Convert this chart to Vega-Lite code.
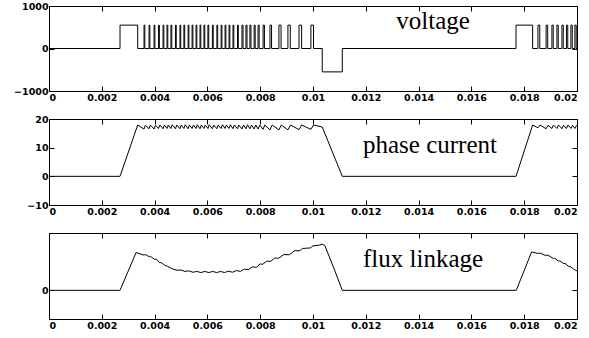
{
  "$schema": "https://vega.github.io/schema/vega-lite/v6.json",
  "background": "white",
  "padding": {"left": 13, "top": 0, "right": 10, "bottom": 5},
  "spacing": 28,
  "bounds": "flush",
  "config": {
    "view": {"stroke": "black", "strokeWidth": 1},
    "axis": {"grid": false, "domain": false, "tickSize": -5, "tickColor": "black", "tickWidth": 1, "labelFont": "DejaVu Sans", "labelFontSize": 9.5, "labelFontWeight": "bold", "labelColor": "black", "labelPadding": 6}
  },
  "datasets": {
    "voltage": [
      {"t": 0, "v": 0}, {"t": 0.00269, "v": 550}, {"t": 0.00336, "v": 0},
      {"t": 0.0036, "v": 550}, {"t": 0.00363, "v": 0},
      {"t": 0.00379, "v": 550}, {"t": 0.00382, "v": 0},
      {"t": 0.00398, "v": 550}, {"t": 0.00401, "v": 0},
      {"t": 0.00415, "v": 550}, {"t": 0.00418, "v": 0},
      {"t": 0.00432, "v": 550}, {"t": 0.00435, "v": 0},
      {"t": 0.00447, "v": 550}, {"t": 0.0045, "v": 0},
      {"t": 0.00462, "v": 550}, {"t": 0.00465, "v": 0},
      {"t": 0.00479, "v": 550}, {"t": 0.00482, "v": 0},
      {"t": 0.00496, "v": 550}, {"t": 0.00499, "v": 0},
      {"t": 0.00511, "v": 550}, {"t": 0.00514, "v": 0},
      {"t": 0.00527, "v": 550}, {"t": 0.0053, "v": 0},
      {"t": 0.00542, "v": 550}, {"t": 0.00545, "v": 0},
      {"t": 0.00557, "v": 550}, {"t": 0.0056, "v": 0},
      {"t": 0.00572, "v": 550}, {"t": 0.00575, "v": 0},
      {"t": 0.00587, "v": 550}, {"t": 0.0059, "v": 0},
      {"t": 0.00602, "v": 550}, {"t": 0.00605, "v": 0},
      {"t": 0.00619, "v": 550}, {"t": 0.00622, "v": 0},
      {"t": 0.00636, "v": 550}, {"t": 0.00639, "v": 0},
      {"t": 0.00652, "v": 550}, {"t": 0.00655, "v": 0},
      {"t": 0.00667, "v": 550}, {"t": 0.0067, "v": 0},
      {"t": 0.00682, "v": 550}, {"t": 0.00685, "v": 0},
      {"t": 0.00697, "v": 550}, {"t": 0.007, "v": 0},
      {"t": 0.00714, "v": 550}, {"t": 0.00717, "v": 0},
      {"t": 0.00731, "v": 550}, {"t": 0.00735, "v": 0},
      {"t": 0.00746, "v": 550}, {"t": 0.0075, "v": 0},
      {"t": 0.00761, "v": 550}, {"t": 0.00765, "v": 0},
      {"t": 0.00777, "v": 550}, {"t": 0.00781, "v": 0},
      {"t": 0.00792, "v": 550}, {"t": 0.00796, "v": 0},
      {"t": 0.00811, "v": 550}, {"t": 0.00816, "v": 0},
      {"t": 0.00837, "v": 550}, {"t": 0.00843, "v": 0},
      {"t": 0.00871, "v": 550}, {"t": 0.00879, "v": 0},
      {"t": 0.00905, "v": 550}, {"t": 0.00914, "v": 0},
      {"t": 0.00947, "v": 550}, {"t": 0.00957, "v": 0},
      {"t": 0.00992, "v": 550}, {"t": 0.01002, "v": 0},
      {"t": 0.01035, "v": -550}, {"t": 0.01111, "v": 0},
      {"t": 0.01769, "v": 550}, {"t": 0.01832, "v": 0},
      {"t": 0.01852, "v": 550}, {"t": 0.01859, "v": 0},
      {"t": 0.01883, "v": 550}, {"t": 0.01889, "v": 0},
      {"t": 0.01905, "v": 550}, {"t": 0.0191, "v": 0},
      {"t": 0.01924, "v": 550}, {"t": 0.01929, "v": 0},
      {"t": 0.01943, "v": 550}, {"t": 0.01948, "v": 0},
      {"t": 0.0196, "v": 550}, {"t": 0.01965, "v": 0},
      {"t": 0.01977, "v": 550}, {"t": 0.01982, "v": 0},
      {"t": 0.01992, "v": 550}, {"t": 0.01997, "v": 0},
      {"t": 0.02, "v": 0}
    ],
    "current": [
      {"t": 0, "i": 0}, {"t": 0.00269, "i": 0}, {"t": 0.00336, "i": 17.9},
      {"t": 0.0036, "i": 16.5}, {"t": 0.00365, "i": 17.8},
      {"t": 0.00379, "i": 16.6}, {"t": 0.00384, "i": 17.9},
      {"t": 0.00398, "i": 16.5}, {"t": 0.00403, "i": 17.8},
      {"t": 0.00415, "i": 16.7}, {"t": 0.0042, "i": 17.9},
      {"t": 0.00432, "i": 16.6}, {"t": 0.00437, "i": 17.9},
      {"t": 0.00447, "i": 16.7}, {"t": 0.00452, "i": 17.9},
      {"t": 0.00462, "i": 16.7}, {"t": 0.00467, "i": 18.0},
      {"t": 0.00479, "i": 16.6}, {"t": 0.00484, "i": 17.9},
      {"t": 0.00496, "i": 16.6}, {"t": 0.00501, "i": 17.9},
      {"t": 0.00511, "i": 16.7}, {"t": 0.00516, "i": 18.0},
      {"t": 0.00527, "i": 16.6}, {"t": 0.00532, "i": 17.9},
      {"t": 0.00542, "i": 16.7}, {"t": 0.00547, "i": 17.9},
      {"t": 0.00557, "i": 16.7}, {"t": 0.00562, "i": 18.0},
      {"t": 0.00572, "i": 16.6}, {"t": 0.00577, "i": 17.9},
      {"t": 0.00587, "i": 16.7}, {"t": 0.00592, "i": 17.9},
      {"t": 0.00602, "i": 16.7}, {"t": 0.00607, "i": 18.0},
      {"t": 0.00619, "i": 16.6}, {"t": 0.00624, "i": 17.9},
      {"t": 0.00636, "i": 16.6}, {"t": 0.00641, "i": 17.9},
      {"t": 0.00652, "i": 16.7}, {"t": 0.00657, "i": 18.0},
      {"t": 0.00667, "i": 16.7}, {"t": 0.00672, "i": 17.9},
      {"t": 0.00682, "i": 16.7}, {"t": 0.00687, "i": 18.0},
      {"t": 0.00697, "i": 16.6}, {"t": 0.00702, "i": 17.9},
      {"t": 0.00714, "i": 16.6}, {"t": 0.00719, "i": 17.9},
      {"t": 0.00731, "i": 16.5}, {"t": 0.00737, "i": 17.9},
      {"t": 0.00746, "i": 16.6}, {"t": 0.00752, "i": 18.0},
      {"t": 0.00761, "i": 16.6}, {"t": 0.00767, "i": 17.9},
      {"t": 0.00777, "i": 16.5}, {"t": 0.00783, "i": 17.9},
      {"t": 0.00792, "i": 16.5}, {"t": 0.00798, "i": 17.9},
      {"t": 0.00811, "i": 16.4}, {"t": 0.00817, "i": 17.9},
      {"t": 0.00837, "i": 16.2}, {"t": 0.00845, "i": 17.9},
      {"t": 0.00871, "i": 16.2}, {"t": 0.0088, "i": 17.9},
      {"t": 0.00905, "i": 16.2}, {"t": 0.00915, "i": 17.9},
      {"t": 0.00947, "i": 16.3}, {"t": 0.00957, "i": 17.9},
      {"t": 0.00992, "i": 16.4}, {"t": 0.01002, "i": 17.9},
      {"t": 0.01035, "i": 17.2}, {"t": 0.01111, "i": 0},
      {"t": 0.01769, "i": 0}, {"t": 0.01832, "i": 17.9},
      {"t": 0.01852, "i": 16.9}, {"t": 0.0186, "i": 17.9},
      {"t": 0.01883, "i": 16.6}, {"t": 0.0189, "i": 17.8},
      {"t": 0.01905, "i": 16.7}, {"t": 0.01911, "i": 17.9},
      {"t": 0.01924, "i": 16.7}, {"t": 0.0193, "i": 17.9},
      {"t": 0.01943, "i": 16.6}, {"t": 0.01949, "i": 17.8},
      {"t": 0.0196, "i": 16.7}, {"t": 0.01966, "i": 17.9},
      {"t": 0.01977, "i": 16.7}, {"t": 0.01983, "i": 17.8},
      {"t": 0.01992, "i": 16.7}, {"t": 0.01998, "i": 17.7},
      {"t": 0.02, "i": 17.6}
    ],
    "flux": [
      {"t": 0, "f": 0}, {"t": 0.00269, "f": 0}, {"t": 0.0033, "f": 1.32},
      {"t": 0.00345, "f": 1.27}, {"t": 0.0036, "f": 1.23}, {"t": 0.00365, "f": 1.25},
      {"t": 0.0038, "f": 1.17}, {"t": 0.00385, "f": 1.18}, {"t": 0.004, "f": 1.08},
      {"t": 0.00405, "f": 1.09}, {"t": 0.0042, "f": 0.96}, {"t": 0.00425, "f": 0.97},
      {"t": 0.0044, "f": 0.86}, {"t": 0.00445, "f": 0.86}, {"t": 0.0046, "f": 0.78},
      {"t": 0.0047, "f": 0.74}, {"t": 0.00485, "f": 0.7}, {"t": 0.005, "f": 0.71},
      {"t": 0.00515, "f": 0.66}, {"t": 0.0053, "f": 0.68}, {"t": 0.00545, "f": 0.63},
      {"t": 0.0056, "f": 0.66}, {"t": 0.00575, "f": 0.62}, {"t": 0.0059, "f": 0.66},
      {"t": 0.00605, "f": 0.62}, {"t": 0.0062, "f": 0.66}, {"t": 0.00635, "f": 0.62},
      {"t": 0.0065, "f": 0.66}, {"t": 0.00665, "f": 0.62}, {"t": 0.0068, "f": 0.67},
      {"t": 0.00695, "f": 0.63}, {"t": 0.0071, "f": 0.69}, {"t": 0.00725, "f": 0.66},
      {"t": 0.0074, "f": 0.74}, {"t": 0.00755, "f": 0.72}, {"t": 0.0077, "f": 0.82},
      {"t": 0.00785, "f": 0.8}, {"t": 0.008, "f": 0.92}, {"t": 0.0081, "f": 0.91},
      {"t": 0.00825, "f": 1.02}, {"t": 0.0084, "f": 1.01}, {"t": 0.00855, "f": 1.13},
      {"t": 0.0087, "f": 1.12}, {"t": 0.0089, "f": 1.25}, {"t": 0.0091, "f": 1.24},
      {"t": 0.0093, "f": 1.38}, {"t": 0.0095, "f": 1.38}, {"t": 0.0096, "f": 1.46},
      {"t": 0.0099, "f": 1.48}, {"t": 0.01, "f": 1.55}, {"t": 0.01025, "f": 1.58},
      {"t": 0.01035, "f": 1.61}, {"t": 0.01045, "f": 1.56}, {"t": 0.0108, "f": 0.75},
      {"t": 0.01111, "f": 0}, {"t": 0.0177, "f": 0}, {"t": 0.01828, "f": 1.34},
      {"t": 0.0185, "f": 1.29}, {"t": 0.0186, "f": 1.3}, {"t": 0.0188, "f": 1.22},
      {"t": 0.0189, "f": 1.23}, {"t": 0.0191, "f": 1.11}, {"t": 0.01915, "f": 1.12},
      {"t": 0.0193, "f": 1.02}, {"t": 0.01935, "f": 1.03}, {"t": 0.0195, "f": 0.93},
      {"t": 0.01955, "f": 0.94}, {"t": 0.0197, "f": 0.82}, {"t": 0.01975, "f": 0.83},
      {"t": 0.0199, "f": 0.72}, {"t": 0.02, "f": 0.68}
    ],
    "labels": [
      {"panel": "v", "t": 0.01455, "y": 462, "label": "voltage"},
      {"panel": "i", "t": 0.01443, "y": 8.07, "label": "phase current"},
      {"panel": "f", "t": 0.01417, "y": 0.81, "label": "flux linkage"}
    ]
  },
  "vconcat": [
    {
      "width": 528, "height": 85,
      "layer": [
        {
          "data": {"name": "voltage"},
          "mark": {"type": "line", "interpolate": "step-after", "color": "black", "strokeWidth": 1},
          "encoding": {
            "x": {"field": "t", "type": "quantitative", "scale": {"domain": [0, 0.02], "nice": false, "zero": false}, "axis": {"title": null, "orient": "bottom", "values": [0, 0.002, 0.004, 0.006, 0.008, 0.01, 0.012, 0.014, 0.016, 0.018, 0.02], "format": "~g"}},
            "y": {"field": "v", "type": "quantitative", "scale": {"domain": [-1000, 1000], "nice": false}, "axis": {"title": null, "orient": "left", "values": [-1000, 0, 1000], "format": "d"}}
          }
        },
        {
          "data": {"name": "labels"},
          "transform": [{"filter": "datum.panel === 'v'"}],
          "mark": {"type": "text", "font": "Liberation Serif", "fontSize": 25, "align": "center", "baseline": "alphabetic", "color": "black"},
          "encoding": {
            "x": {"field": "t", "type": "quantitative", "axis": {"title": null, "orient": "top", "labels": false, "values": [0, 0.002, 0.004, 0.006, 0.008, 0.01, 0.012, 0.014, 0.016, 0.018, 0.02]}},
            "y": {"field": "y", "type": "quantitative", "axis": {"title": null, "orient": "right", "labels": false, "values": [-1000, 0, 1000]}},
            "text": {"field": "label"}
          }
        }
      ],
      "resolve": {"axis": {"x": "independent", "y": "independent"}}
    },
    {
      "width": 528, "height": 86,
      "layer": [
        {
          "data": {"name": "current"},
          "mark": {"type": "line", "color": "black", "strokeWidth": 1},
          "encoding": {
            "x": {"field": "t", "type": "quantitative", "scale": {"domain": [0, 0.02], "nice": false, "zero": false}, "axis": {"title": null, "orient": "bottom", "values": [0, 0.002, 0.004, 0.006, 0.008, 0.01, 0.012, 0.014, 0.016, 0.018, 0.02], "format": "~g"}},
            "y": {"field": "i", "type": "quantitative", "scale": {"domain": [-10, 20], "nice": false}, "axis": {"title": null, "orient": "left", "values": [-10, 0, 10, 20], "format": "d"}}
          }
        },
        {
          "data": {"name": "labels"},
          "transform": [{"filter": "datum.panel === 'i'"}],
          "mark": {"type": "text", "font": "Liberation Serif", "fontSize": 25, "align": "center", "baseline": "alphabetic", "color": "black"},
          "encoding": {
            "x": {"field": "t", "type": "quantitative", "axis": {"title": null, "orient": "top", "labels": false, "values": [0, 0.002, 0.004, 0.006, 0.008, 0.01, 0.012, 0.014, 0.016, 0.018, 0.02]}},
            "y": {"field": "y", "type": "quantitative", "axis": {"title": null, "orient": "right", "labels": false, "values": [-10, 0, 10, 20]}},
            "text": {"field": "label"}
          }
        }
      ],
      "resolve": {"axis": {"x": "independent", "y": "independent"}}
    },
    {
      "width": 528, "height": 86,
      "layer": [
        {
          "data": {"name": "flux"},
          "mark": {"type": "line", "color": "black", "strokeWidth": 1},
          "encoding": {
            "x": {"field": "t", "type": "quantitative", "scale": {"domain": [0, 0.02], "nice": false, "zero": false}, "axis": {"title": null, "orient": "bottom", "values": [0, 0.002, 0.004, 0.006, 0.008, 0.01, 0.012, 0.014, 0.016, 0.018, 0.02], "format": "~g"}},
            "y": {"field": "f", "type": "quantitative", "scale": {"domain": [-1, 2], "nice": false}, "axis": {"title": null, "orient": "left", "values": [0], "format": "d"}}
          }
        },
        {
          "data": {"name": "labels"},
          "transform": [{"filter": "datum.panel === 'f'"}],
          "mark": {"type": "text", "font": "Liberation Serif", "fontSize": 25, "align": "center", "baseline": "alphabetic", "color": "black"},
          "encoding": {
            "x": {"field": "t", "type": "quantitative", "axis": {"title": null, "orient": "top", "labels": false, "values": [0, 0.002, 0.004, 0.006, 0.008, 0.01, 0.012, 0.014, 0.016, 0.018, 0.02]}},
            "y": {"field": "y", "type": "quantitative", "axis": {"title": null, "orient": "right", "labels": false, "values": [0]}},
            "text": {"field": "label"}
          }
        }
      ],
      "resolve": {"axis": {"x": "independent", "y": "independent"}}
    }
  ]
}
